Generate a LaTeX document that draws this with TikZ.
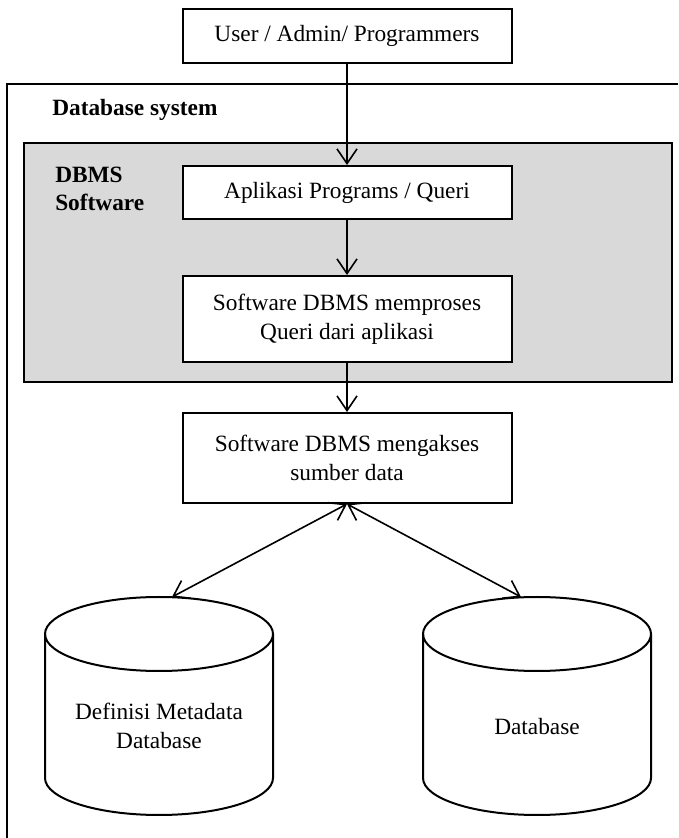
\documentclass[tikz,border=0pt]{standalone}
\usepackage{fontspec}
\setmainfont{Liberation Serif}
\usetikzlibrary{arrows.meta}
\definecolor{panelgray}{HTML}{D9D9D9}
\tikzset{
  stepbox/.style={draw, line width=1.5pt, fill=white, align=center,
    inner sep=0pt, minimum width=246.75pt},
  panel/.style={draw, line width=1.5pt, fill=panelgray, inner sep=0pt},
  frame/.style={line width=1.6pt},
  barb/.style={Straight Barb[length=11pt,width=15pt,line width=1.2pt]},
  flow/.style={line width=1.2pt, -{Straight Barb[length=11pt,width=15pt,line width=1.2pt]}},
  both/.style={line width=1.2pt,
    {Straight Barb[length=11pt,width=15pt,line width=1.2pt]}-{Straight Barb[length=11pt,width=15pt,line width=1.2pt]}},
  drum/.style={line width=1.5pt},
  heading/.style={font=\bfseries\fontsize{17.5pt}{21pt}\selectfont, anchor=west, align=left, inner sep=0pt}
}
\begin{document}
\begin{tikzpicture}[x=0.75pt, y=0.75pt, font=\fontsize{17.5pt}{21.5pt}\selectfont]
  \useasboundingbox (0,0) rectangle (678,838);

  % outer "Database system" frame (open to the right and bottom)
  \draw[frame] (678,754) -- (7,754) -- (7,0);
  \node[heading] (systitle) at (52,728) {Database system};

  % DBMS software panel
  \node[panel, minimum width=486pt, minimum height=179.25pt] (dbms) at (348,575.5) {};
  \node[heading] (dbmstitle) at (55,649) {DBMS\\Software};

  % process boxes
  \node[stepbox, minimum height=40.5pt] (user) at (347,802) {User / Admin/ Programmers};
  \node[stepbox, minimum height=39.75pt] (app) at (347,645.5) {Aplikasi Programs / Queri};
  \node[stepbox, minimum height=64.5pt] (proc) at (347,519) {Software DBMS memproses\\Queri dari aplikasi};
  \node[stepbox, minimum height=67.5pt] (access) at (347,380) {Software DBMS mengakses\\sumber data};

  % storage drums
  \draw[drum, fill=white] (45,204) -- (45,60) arc[start angle=180, end angle=360, x radius=114, y radius=37] -- (273,204);
  \draw[drum] (159,204) ellipse [x radius=114, y radius=37];
  \node[align=center] (meta) at (159,112) {Definisi Metadata\\Database};
  \coordinate (metatop) at (172,241);

  \draw[drum, fill=white] (423,204) -- (423,60) arc[start angle=180, end angle=360, x radius=114, y radius=37] -- (651,204);
  \draw[drum] (537,204) ellipse [x radius=114, y radius=37];
  \node (db) at (537,111) {Database};
  \coordinate (dbtop) at (521,241);

  % connectors
  \draw[flow] (user.south) -- (app.north);
  \draw[flow] (app.south) -- (proc.north);
  \draw[flow] (proc.south) -- (access.north);
  \draw[both] (access.south) -- (metatop);
  \draw[both] (access.south) -- (dbtop);
\end{tikzpicture}
\end{document}
